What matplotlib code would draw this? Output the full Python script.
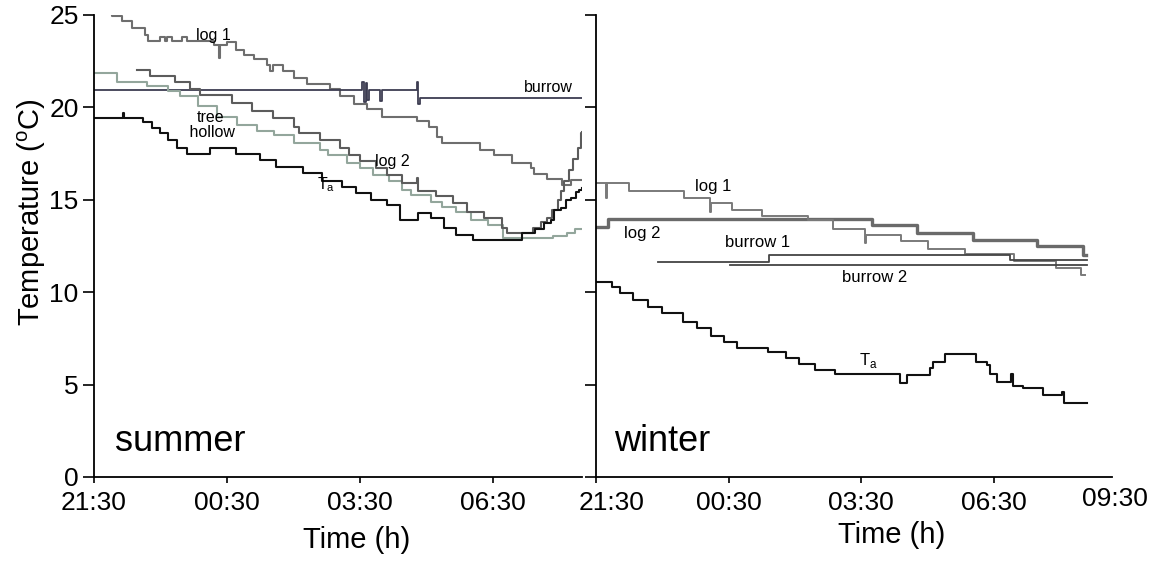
import matplotlib.pyplot as plt

plt.rcParams['font.family'] = ['Liberation Sans', 'DejaVu Sans']
plt.rcParams['mathtext.fontset'] = 'custom'
plt.rcParams['mathtext.rm'] = 'Liberation Sans'

# --- DATA (hours after 21:30, temperature in degC) ---
# summer
s_log1_t = [0.05, 0.41, 0.63, 0.86, 1.15, 1.22, 1.49, 1.6, 1.65, 1.76, 1.99, 2.1, 2.7, 2.82, 2.85,
            3.0, 3.2, 3.37, 3.6, 3.9, 3.97, 4.04, 4.27, 4.5, 4.8, 5.33, 5.55, 5.85, 6.15, 6.5,
            7.28, 7.55, 7.73, 7.85, 8.71, 9.01, 9.43, 9.84, 9.91, 10.22, 10.56, 10.75, 11.0]
s_log1_v = [25.25, 24.95, 24.65, 24.3, 23.9, 23.6, 23.8, 23.6, 23.8, 23.6, 23.8, 23.6, 23.4, 22.7, 23.4,
            23.55, 23.1, 22.85, 22.6, 22.3, 21.95, 22.3, 21.95, 21.6, 21.25, 21.0, 20.6, 20.2, 19.9, 19.5,
            19.25, 18.95, 18.4, 18.05, 17.7, 17.4, 17.0, 16.7, 16.4, 16.1, 15.8, 16.05, 16.05]

s_burrow_t = [0.02, 6.05, 6.08, 6.12, 6.16, 6.2, 6.45, 6.5, 7.28, 7.31, 7.35, 11.0]
s_burrow_v = [20.95, 21.4, 20.3, 21.3, 20.4, 20.95, 20.35, 20.95, 21.4, 20.2, 20.52, 20.52]

s_tree_t = [0.02, 0.51, 1.19, 1.67, 1.94, 2.35, 2.77, 3.22, 3.67, 4.05, 4.5, 5.1, 5.28, 5.7, 6.0,
            6.3, 6.65, 6.95, 7.15, 7.6, 7.85, 8.15, 8.5, 8.87, 9.23, 10.35, 10.67, 10.85, 11.0]
s_tree_v = [21.85, 21.4, 21.15, 20.9, 20.6, 20.05, 19.5, 19.05, 18.7, 18.5, 18.05, 17.7, 17.4, 17.0, 16.7,
            16.35, 16.0, 15.55, 15.25, 14.9, 14.6, 14.35, 13.9, 13.65, 12.95, 13.05, 13.2, 13.4, 13.4]

s_log2_t = [0.96, 1.26, 1.83, 2.17, 2.39, 3.11, 3.56, 4.04, 4.5, 4.62, 5.1, 5.55, 5.75, 6.0, 6.35,
            6.6, 6.95, 7.28, 7.31, 7.7, 8.1, 8.4, 8.8, 9.2, 9.3, 9.9, 10.07, 10.2, 10.33, 10.45,
            10.52, 10.6, 10.7, 10.8, 10.9, 10.97, 11.0]
s_log2_v = [22.0, 21.7, 21.35, 21.0, 20.65, 20.25, 19.8, 19.4, 18.95, 18.6, 18.25, 17.8, 17.4, 17.1, 16.7,
            16.35, 15.9, 16.2, 15.5, 15.2, 14.8, 14.35, 14.0, 13.5, 13.2, 13.5, 13.8, 14.0, 14.45, 15.0,
            15.5, 16.0, 16.6, 17.2, 17.8, 18.6, 18.65]

s_ta_t = [0.02, 0.65, 0.67, 1.1, 1.3, 1.49, 1.67, 1.88, 2.1, 2.62, 3.19, 3.75, 4.1, 4.7, 5.15,
          5.6, 5.9, 6.25, 6.6, 6.9, 7.3, 7.6, 7.9, 8.15, 8.55, 9.65, 9.95, 10.15, 10.3, 10.37,
          10.52, 10.63, 10.75, 10.86, 10.93, 11.0]
s_ta_v = [19.45, 19.7, 19.45, 19.2, 18.9, 18.6, 18.25, 17.8, 17.5, 17.8, 17.5, 17.15, 16.8, 16.45, 16.0,
          15.7, 15.35, 15.0, 14.7, 13.9, 14.3, 14.0, 13.5, 13.1, 12.85, 13.2, 13.4, 13.75, 13.9, 14.45,
          14.55, 15.0, 15.1, 15.4, 15.55, 15.65]

# winter
w_log1_t = [0.02, 0.23, 0.26, 0.75, 2.0, 2.58, 2.61, 3.08, 3.76, 4.8, 5.36, 6.08, 6.11, 6.9, 7.5,
            8.35, 9.45, 10.4, 10.98, 11.05]
w_log1_v = [15.9, 15.1, 15.9, 15.5, 15.1, 14.35, 14.8, 14.45, 14.15, 13.9, 13.4, 12.65, 13.1, 12.75, 12.35,
            12.05, 11.7, 11.3, 10.95, 10.95]

w_log2_t = [0.02, 0.27, 6.24, 7.25, 8.53, 9.98, 11.02, 11.08]
w_log2_v = [13.55, 13.95, 13.65, 13.2, 12.85, 12.5, 12.0, 12.0]

w_burrow1_t = [1.41, 3.91, 9.37, 11.1]
w_burrow1_v = [11.65, 12.02, 11.75, 11.75]

w_burrow2_t = [3.03, 11.1]
w_burrow2_v = [11.48, 11.48]

w_ta_t = [0.02, 0.36, 0.54, 0.84, 1.18, 1.49, 1.97, 2.29, 2.6, 2.9, 3.2, 3.9, 4.3, 4.6, 4.95,
          5.4, 6.88, 7.04, 7.56, 7.62, 7.9, 8.6, 8.85, 8.91, 9.07, 9.39, 9.42, 9.64, 9.66, 10.11,
          10.55, 10.58, 11.1]
w_ta_v = [10.57, 10.3, 9.95, 9.6, 9.2, 8.85, 8.4, 8.05, 7.65, 7.3, 7.0, 6.75, 6.45, 6.1, 5.8,
          5.55, 5.1, 5.52, 5.9, 6.25, 6.65, 6.25, 6.05, 5.6, 5.15, 5.6, 4.9, 4.9, 4.8, 4.45,
          4.6, 4.0, 4.0]

tick_pos = [0, 3, 6, 9]
tick_labels = ['21:30', '00:30', '03:30', '06:30']

# --- PLOTTING ---
fig = plt.figure(figsize=(11.59, 5.66), dpi=100)
ax1 = fig.add_axes([94 / 1159, 89 / 566, 488 / 1159, 462 / 566])
ax2 = fig.add_axes([596 / 1159, 89 / 566, 516 / 1159, 462 / 566])

ax1.step(s_log1_t, s_log1_v, where='post', color='#6e6e6e', lw=1.5)
ax1.step(s_burrow_t, s_burrow_v, where='post', color='#3d3d52', lw=1.3)
ax1.step(s_tree_t, s_tree_v, where='post', color='#93a69c', lw=1.5)
ax1.step(s_log2_t, s_log2_v, where='post', color='#5c5c5c', lw=1.5)
ax1.step(s_ta_t, s_ta_v, where='post', color='#111111', lw=1.5)

ax2.step(w_log2_t, w_log2_v, where='post', color='#6a6a6a', lw=2.4)
ax2.step(w_log1_t, w_log1_v, where='post', color='#7a7a7a', lw=1.4)
ax2.step(w_burrow1_t, w_burrow1_v, where='post', color='#444444', lw=1.3)
ax2.step(w_burrow2_t, w_burrow2_v, where='post', color='#444444', lw=1.3)
ax2.step(w_ta_t, w_ta_v, where='post', color='#111111', lw=1.5)

for ax, xmax in [(ax1, 11.0), (ax2, 11.67)]:
    ax.set_xlim(0, xmax)
    ax.set_ylim(0, 25)
    ax.spines['top'].set_visible(False)
    ax.spines['right'].set_visible(False)
    ax.spines['left'].set_linewidth(1.3)
    ax.spines['bottom'].set_linewidth(1.3)
    ax.set_xticks(tick_pos)
    ax.set_yticks([0, 5, 10, 15, 20, 25])
    ax.tick_params(axis='x', direction='out', length=4, width=1.2, pad=6, labelsize=19)
    ax.tick_params(axis='y', direction='out', length=8, width=1.2, pad=3, labelsize=19)

ax1.set_xticklabels(tick_labels)
# right panel: first label sits a bit right of its tick, last one past the axis end
ax2.set_xticklabels([''] + tick_labels[1:])
ax2.set_yticklabels([])
ax2.text(0.36, -0.030, tick_labels[0], transform=ax2.get_xaxis_transform(),
         ha='center', va='top', fontsize=19)
ax2.text(11.74, -0.022, '09:30', transform=ax2.get_xaxis_transform(),
         ha='center', va='top', fontsize=19)

# labels inside the panels
lab = 11.5
ax1.text(2.69, 23.9, 'log 1', ha='center', va='center', fontsize=lab)
ax1.text(10.25, 21.1, 'burrow', ha='center', va='center', fontsize=lab)
ax1.text(2.62, 19.06, 'tree\n hollow', ha='center', va='center', fontsize=lab, linespacing=1.0)
ax1.text(6.73, 17.05, 'log 2', ha='center', va='center', fontsize=lab)
ax1.text(5.24, 15.8, r'T$_\mathrm{a}$', ha='center', va='center', fontsize=lab)
ax1.text(0.47, 1.9, 'summer', ha='left', va='center', fontsize=26)

lab_w = 12
ax2.text(2.65, 15.7, 'log 1', ha='center', va='center', fontsize=lab_w)
ax2.text(1.04, 13.2, 'log 2', ha='center', va='center', fontsize=lab_w)
ax2.text(3.66, 12.67, 'burrow 1', ha='center', va='center', fontsize=lab_w)
ax2.text(6.3, 10.77, 'burrow 2', ha='center', va='center', fontsize=lab_w)
ax2.text(6.15, 6.3, r'T$_\mathrm{a}$', ha='center', va='center', fontsize=lab_w)
ax2.text(0.41, 1.9, 'winter', ha='left', va='center', fontsize=26)

fig.text(357 / 1159, 1 - 540 / 566, 'Time (h)', ha='center', va='center', fontsize=21)
fig.text(892 / 1159, 1 - 535 / 566, 'Time (h)', ha='center', va='center', fontsize=21)
fig.text(32 / 1159, 1 - 212 / 566, r'Temperature ($^\mathrm{o}$C)', rotation=90,
         ha='center', va='center', fontsize=21)

plt.savefig('out.png', dpi=100)
